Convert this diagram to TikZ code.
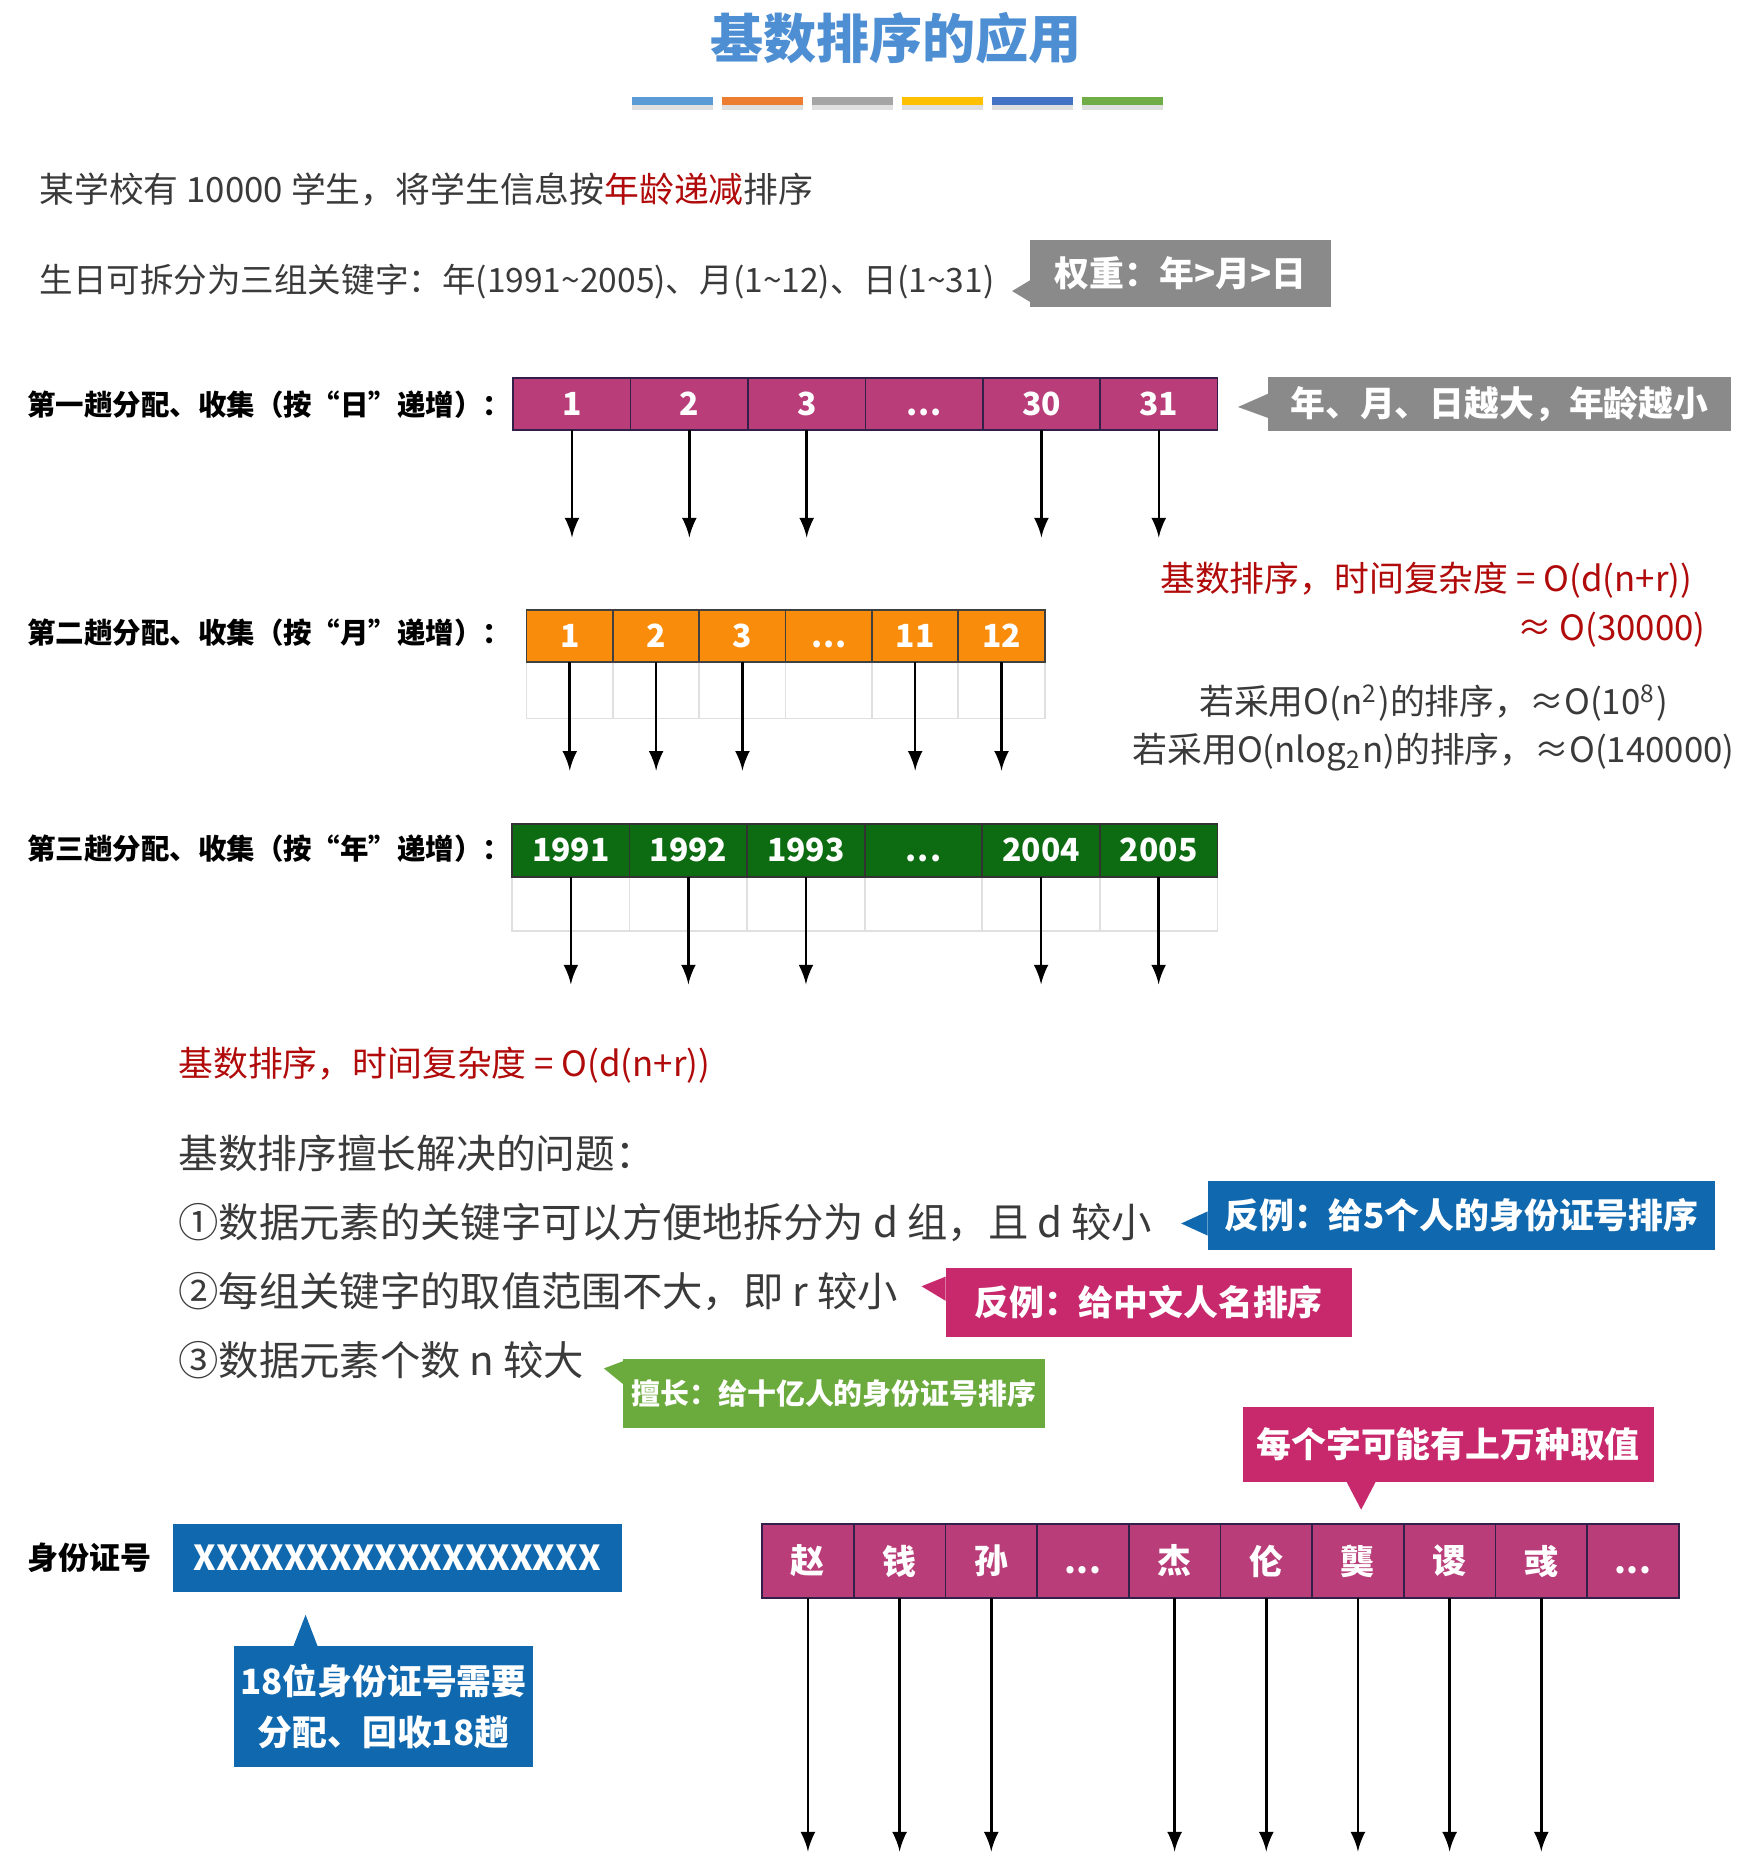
\documentclass[tikz,border=0pt]{standalone}
\usepackage{fontspec}
\setmainfont{Noto Sans CJK SC}
\newcommand{\skipcell}{\vphantom{1}.\kern0.03em.\kern0.03em.}
\definecolor{titleblue}{HTML}{4E8FD3}
\definecolor{bodygray}{HTML}{3A3A3A}
\definecolor{darkred}{HTML}{B00A0A}
\definecolor{cellmag}{HTML}{B83D79}
\definecolor{cellline}{HTML}{33204A}
\definecolor{cellorange}{HTML}{FA8C0C}
\definecolor{cellgreen}{HTML}{0D6B12}
\definecolor{calgray}{HTML}{8A8A8A}
\definecolor{calblue}{HTML}{1068AE}
\definecolor{calmag}{HTML}{C7296C}
\definecolor{calgreen}{HTML}{6BAA3C}
\definecolor{bar1}{HTML}{5B9BD5}
\definecolor{bar2}{HTML}{ED7D31}
\definecolor{bar3}{HTML}{A5A5A5}
\definecolor{bar4}{HTML}{FFC000}
\definecolor{bar5}{HTML}{4472C4}
\definecolor{bar6}{HTML}{70AD47}

\begin{document}
\begin{tikzpicture}[x=0.01cm,y=-0.01cm]
\tikzstyle{txt}=[anchor=west,inner sep=0pt,text=bodygray,font=\fontsize{8.2}{10}\selectfont]
\tikzstyle{big}=[anchor=west,inner sep=0pt,text=bodygray,font=\fontsize{9.5}{11}\selectfont]
\tikzstyle{rowlab}=[anchor=west,inner sep=0pt,text=black,font=\fontsize{6.7}{8}\selectfont\bfseries]
\tikzstyle{cell}=[draw,rectangle,inner sep=0pt,outer sep=0pt,text=white,font=\fontsize{7.5}{9}\selectfont\bfseries]
\tikzstyle{blank}=[draw=black!12,fill=white,rectangle,inner sep=0pt,outer sep=0pt]
\tikzstyle{call}=[rectangle,inner sep=0pt,outer sep=0pt,text=white,font=\fontsize{8.2}{10}\selectfont\bfseries]
\tikzstyle{arr}=[-latex,line width=0.6pt]

\useasboundingbox (0,0) rectangle (1460,1545);

% title and colour bar
\node[font=\fontsize{12.5}{14}\selectfont\bfseries,text=titleblue] (title) at (742,32) {基数排序的应用};
\foreach \c [count=\i] in {bar1,bar2,bar3,bar4,bar5,bar6}{
  \fill[black!12] ({523+74.6*(\i-1)},86) rectangle ++(67,5);
  \fill[\c] ({523+74.6*(\i-1)},80) rectangle ++(67,7);}

% problem
\node[txt] (intro) at (32,157) {某学校有 10000 学生，将学生信息按\textcolor{darkred}{年龄递减}排序};
\node[txt,font=\fontsize{7.9}{10}\selectfont] (keys) at (32,233) {生日可拆分为三组关键字：年(1991\textasciitilde2005)、月(1\textasciitilde12)、日(1\textasciitilde31)};
\node[call,fill=calgray,minimum width=2.49cm,minimum height=0.55cm] (weight) at (977.5,226.5) {权重：年>月>日};
\coordinate (weighttip) at (838,241);
\fill[calgray] ([yshift=-0.055cm]weight.west) -- (weighttip) -- ([yshift=-0.235cm]weight.west) -- cycle;

% pass 1: day
\node[rowlab] (lab1) at (22,335) {第一趟分配、收集（按“日”递增）：};
\foreach \v [count=\i] in {1,2,3,\skipcell,30,31}
  \node[cell,fill=cellmag,draw=cellline,minimum width=0.9717cm,minimum height=0.43cm] (d\i) at ({425+97.17*(\i-0.5)},334.5) {\v};
\foreach \i in {1,2,3,5,6}{
  \coordinate (de\i) at (d\i.south |- 0,445);
  \draw[arr] (d\i.south) -- (de\i);}
\node[call,fill=calgray,minimum width=3.83cm,minimum height=0.45cm] (bigger) at (1241.5,334.5) {年、月、日越大，年龄越小};
\coordinate (biggertip) at (1025,337);
\fill[calgray] ([yshift=0.085cm]bigger.west) -- (biggertip) -- ([yshift=-0.115cm]bigger.west) -- cycle;

% cost
\node[txt,text=darkred] (cost1) at (960,480) {基数排序，时间复杂度 = O(d(n+r))};
\node[txt,text=darkred,anchor=east] (cost2) at (1413,521) {≈ O(30000)};
\node[txt,anchor=center] (sq) at (1187,582) {若采用O(n\textsuperscript{2})的排序，≈O(10\textsuperscript{8})};
\node[txt,anchor=center] (nlog) at (1187,623) {若采用O(nlog\textsubscript{2}n)的排序，≈O(140000)};

% pass 2: month
\node[rowlab] (lab2) at (22,524) {第二趟分配、收集（按“月”递增）：};
\foreach \v [count=\i] in {1,2,3,\skipcell,11,12}{
  \node[blank,minimum width=0.715cm,minimum height=0.47cm] (mb\i) at ({436+71.5*(\i-0.5)},571.5) {};
  \node[cell,fill=cellorange,draw=black!75,minimum width=0.715cm,minimum height=0.43cm] (m\i) at ({436+71.5*(\i-0.5)},526.5) {\v};}
\foreach \i in {1,2,3,5,6}{
  \coordinate (me\i) at (m\i.south |- 0,638);
  \draw[arr] (m\i.south) -- (me\i);}

% pass 3: year
\node[rowlab] (lab3) at (22,703) {第三趟分配、收集（按“年”递增）：};
\foreach \v [count=\i] in {1991,1992,1993,\skipcell,2004,2005}{
  \node[blank,minimum width=0.9733cm,minimum height=0.45cm] (yb\i) at ({424+97.33*(\i-0.5)},748.5) {};
  \node[cell,fill=cellgreen,draw=black!80,minimum width=0.9733cm,minimum height=0.44cm] (y\i) at ({424+97.33*(\i-0.5)},704) {\v};}
\foreach \i in {1,2,3,5,6}{
  \coordinate (ye\i) at (y\i.south |- 0,815);
  \draw[arr] (y\i.south) -- (ye\i);}

% when radix sort fits
\node[txt,text=darkred] (cost3) at (147,882) {基数排序，时间复杂度 = O(d(n+r))};
\node[big,font=\fontsize{9.35}{11}\selectfont] (good) at (147,955) {基数排序擅长解决的问题：};
\node[big] (c1) at (147,1012) {①数据元素的关键字可以方便地拆分为 d 组，且 d 较小};
\node[big] (c2) at (147,1069) {②每组关键字的取值范围不大，即 r 较小};
\node[big] (c3) at (147,1126) {③数据元素个数 n 较大};

\node[call,fill=calblue,minimum width=4.2cm,minimum height=0.57cm] (no1) at (1210,1006.5) {反例：给5个人的身份证号排序};
\coordinate (no1tip) at (978,1013);
\fill[calblue] ([yshift=0.035cm]no1.west) -- (no1tip) -- ([yshift=-0.165cm]no1.west) -- cycle;
\node[call,fill=calmag,minimum width=3.36cm,minimum height=0.57cm] (no2) at (951,1078.5) {反例：给中文人名排序};
\coordinate (no2tip) at (763,1065);
\fill[calmag] ([yshift=0.215cm]no2.west) -- (no2tip) -- ([yshift=0.015cm]no2.west) -- cycle;
\node[call,fill=calgreen,minimum width=3.49cm,minimum height=0.57cm,font=\fontsize{6.8}{8}\selectfont\bfseries] (yes) at (690.5,1153.5) {擅长：给十亿人的身份证号排序};
\coordinate (yestip) at (500,1133);
\fill[calgreen] ([yshift=0.265cm]yes.west) -- (yestip) -- ([yshift=0.075cm]yes.west) -- cycle;

% id number
\node[rowlab,font=\fontsize{7.3}{9}\selectfont\bfseries] (idlab) at (22,1290) {身份证号};
\node[call,fill=calblue,minimum width=3.72cm,minimum height=0.56cm,font=\fontsize{8.1}{10}\selectfont\bfseries] (idbox) at (329,1290) {XXXXXXXXXXXXXXXXXX};
\node[call,fill=calblue,minimum width=2.47cm,minimum height=1.0cm,align=center,font=\fontsize{8.2}{12}\selectfont\bfseries] (idnote) at (317.5,1413) {18位身份证号需要\\分配、回收18趟};
\coordinate (idtip) at (253,1337);
\fill[calblue] ([xshift=-0.745cm]idnote.north) -- (idtip) -- ([xshift=-0.545cm]idnote.north) -- cycle;

% names
\foreach \v [count=\i] in {赵,钱,孙,\skipcell,杰,伦,龑,谡,彧,\skipcell}
  \node[cell,fill=cellmag,draw=cellline,minimum width=0.759cm,minimum height=0.61cm,font=\fontsize{8}{10}\selectfont\bfseries] (z\i) at ({631+75.9*(\i-0.5)},1292.5) {\v};
\foreach \i in {1,2,3,5,6,7,8,9}{
  \coordinate (ze\i) at (z\i.south |- 0,1533);
  \draw[arr] (z\i.south) -- (ze\i);}
\node[call,fill=calmag,minimum width=3.4cm,minimum height=0.62cm] (wan) at (1199,1196) {每个字可能有上万种取值};
\coordinate (wantip) at (1127,1250);
\fill[calmag] ([xshift=-0.84cm]wan.south) -- (wantip) -- ([xshift=-0.6cm]wan.south) -- cycle;

\end{tikzpicture}
\end{document}
